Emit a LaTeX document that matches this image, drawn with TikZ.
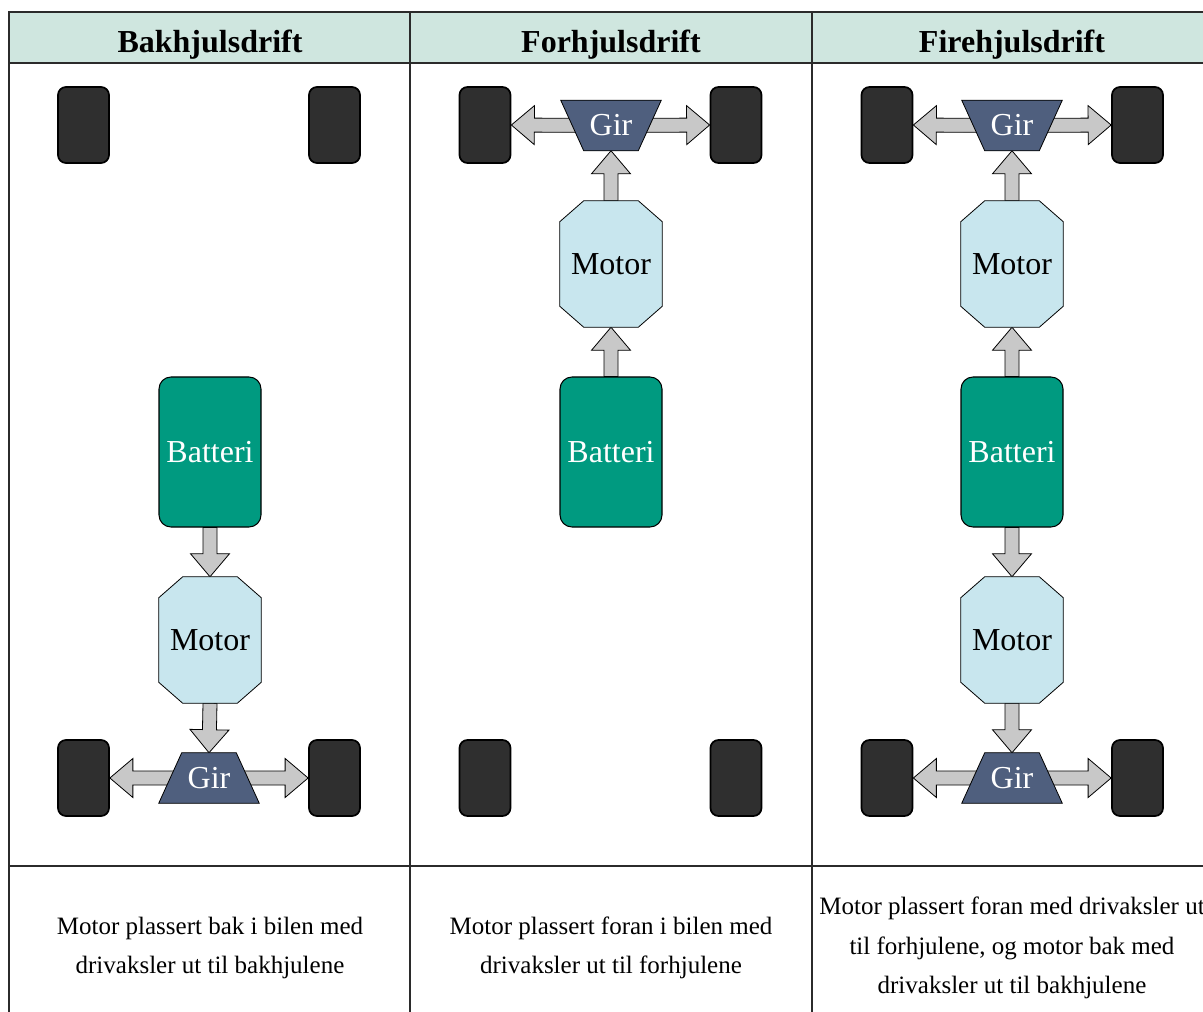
\documentclass[tikz,border=0pt]{standalone}
\usepackage{fontspec}
\setmainfont{Liberation Serif}
\usetikzlibrary{calc}
\pgfdeclarelayer{bg}\pgfdeclarelayer{arr}\pgfdeclarelayer{shp}
\pgfsetlayers{bg,arr,shp,main}
\definecolor{hdr}{HTML}{CFE6DF}
\definecolor{tblc}{HTML}{2B2B2B}
\definecolor{wheelc}{HTML}{2F2F2F}
\definecolor{battc}{HTML}{009A80}
\definecolor{motc}{HTML}{C8E6EE}
\definecolor{girc}{HTML}{4F5F7E}
\definecolor{arrc}{HTML}{C8C8C8}
\tikzset{
  tbl/.style={draw=tblc, line width=1.5pt},
  hdrtxt/.style={anchor=base, font=\bfseries\fontsize{24}{28}\selectfont},
  wheel/.style={draw=black, line width=1.3pt, fill=wheelc, rounded corners=6pt,
    minimum width=38.25pt, minimum height=57pt, inner sep=0pt},
  batt/.style={draw=black, line width=0.8pt, fill=battc, rounded corners=9pt,
    minimum width=76.5pt, minimum height=112.5pt, inner sep=0pt, text=white,
    font=\fontsize{24}{28}\selectfont},
  motbox/.style={minimum width=76.5pt, minimum height=94.5pt, inner sep=0pt,
    font=\fontsize{24}{28}\selectfont},
  girbox/.style={minimum width=75pt, minimum height=37.5pt, inner sep=0pt,
    text=white, font=\fontsize{24}{28}\selectfont},
  octstyle/.style={draw=black, line width=0.6pt, fill=motc},
  trapstyle/.style={draw=black, line width=0.6pt, fill=girc},
  barrowst/.style={draw=black, line width=0.6pt, fill=arrc, line join=miter},
  desc/.style={align=center, font=\fontsize{18.75}{29.6}\selectfont},
}
\newcommand\octa[1]{%
  \begin{pgfonlayer}{shp}
  \draw[octstyle] ($(#1.north west)+(24,0)$) -- ($(#1.north east)+(-24,0)$)
    -- ($(#1.north east)+(0,21)$) -- ($(#1.south east)+(0,-21)$)
    -- ($(#1.south east)+(-24,0)$) -- ($(#1.south west)+(24,0)$)
    -- ($(#1.south west)+(0,-21)$) -- ($(#1.north west)+(0,21)$) -- cycle;
  \end{pgfonlayer}}
\newcommand\trapnarrowtop[1]{%
  \begin{pgfonlayer}{shp}
  \draw[trapstyle] ($(#1.north west)+(23,0)$) -- ($(#1.north east)+(-23,0)$)
    -- (#1.south east) -- (#1.south west) -- cycle;
  \end{pgfonlayer}}
\newcommand\trapwidetop[1]{%
  \begin{pgfonlayer}{shp}
  \draw[trapstyle] (#1.north west) -- (#1.north east)
    -- ($(#1.south east)+(-23,0)$) -- ($(#1.south west)+(23,0)$) -- cycle;
  \end{pgfonlayer}}
\newcommand\barrow[2]{%
  \begin{pgfonlayer}{arr}
  \coordinate (ba-s) at (#1);
  \coordinate (ba-t) at (#2);
  \coordinate (ba-h) at ($(ba-t)!17.25pt!(ba-s)$);
  \draw[barrowst] ($(ba-s)!5.25pt!90:(ba-t)$) -- ($(ba-h)!5.25pt!90:(ba-t)$)
    -- ($(ba-h)!14.625pt!90:(ba-t)$) -- (ba-t)
    -- ($(ba-h)!14.625pt!-90:(ba-t)$) -- ($(ba-h)!5.25pt!-90:(ba-t)$)
    -- ($(ba-s)!5.25pt!-90:(ba-t)$) -- cycle;
  \end{pgfonlayer}}
\begin{document}
\begin{tikzpicture}[x=0.75pt,y=-0.75pt]
\useasboundingbox (0,0) rectangle (1203,1012);
\begin{pgfonlayer}{bg}
\fill[white] (0,0) rectangle (1203,1012);
\fill[hdr] (9,12) rectangle (1203,63);
\draw[tbl] (1203,12) -- (9,12) -- (9,1012);
\draw[tbl] (9,63) -- (1203,63);
\draw[tbl] (9,866) -- (1203,866);
\draw[tbl] (410,12) -- (410,1012);
\draw[tbl] (812,12) -- (812,1012);
\end{pgfonlayer}

% headers
\node[hdrtxt] (h1) at (210,53) {Bakhjulsdrift};
\node[hdrtxt] (h2) at (611,53) {Forhjulsdrift};
\node[hdrtxt] (h3) at (1012,53) {Firehjulsdrift};

% column 1
\node[wheel] (w1a) at (83.5,125) {};
\node[wheel] (w1b) at (334.5,125) {};
\node[wheel] (w1c) at (83.5,778) {};
\node[wheel] (w1d) at (334.5,778) {};
\node[batt] (b1) at (210,452) {Batteri};
\node[motbox] (m1) at (210,640) {Motor}; \octa{m1}
\node[girbox] (g1) at (209,778) {Gir}; \trapnarrowtop{g1}
\barrow{b1.south}{m1.north}
\barrow{m1.south}{g1.north}
\barrow{g1.center}{w1c.east}
\barrow{g1.center}{w1d.west}

% column 2
\node[wheel] (w2a) at (485,125) {};
\node[wheel] (w2b) at (736,125) {};
\node[wheel] (w2c) at (485,778) {};
\node[wheel] (w2d) at (736,778) {};
\node[girbox] (g2) at (611,125.5) {Gir}; \trapwidetop{g2}
\node[motbox] (m2) at (611,264) {Motor}; \octa{m2}
\node[batt] (b2) at (611,452) {Batteri};
\barrow{b2.north}{m2.south}
\barrow{m2.north}{g2.south}
\barrow{g2.center}{w2a.east}
\barrow{g2.center}{w2b.west}

% column 3
\node[wheel] (w3a) at (887,125) {};
\node[wheel] (w3b) at (1137.5,125) {};
\node[wheel] (w3c) at (887,778) {};
\node[wheel] (w3d) at (1137.5,778) {};
\node[girbox] (g3) at (1012,125.5) {Gir}; \trapwidetop{g3}
\node[motbox] (m3) at (1012,264) {Motor}; \octa{m3}
\node[batt] (b3) at (1012,452) {Batteri};
\node[motbox] (m4) at (1012,640) {Motor}; \octa{m4}
\node[girbox] (g4) at (1012,778) {Gir}; \trapnarrowtop{g4}
\barrow{m3.north}{g3.south}
\barrow{b3.north}{m3.south}
\barrow{b3.south}{m4.north}
\barrow{m4.south}{g4.north}
\barrow{g3.center}{w3a.east}
\barrow{g3.center}{w3b.west}
\barrow{g4.center}{w3c.east}
\barrow{g4.center}{w3d.west}

% descriptions
\node[desc] (d1) at (210,948) {Motor plassert bak i bilen med\\drivaksler ut til bakhjulene};
\node[desc] (d2) at (611,948) {Motor plassert foran i bilen med\\drivaksler ut til forhjulene};
\node[desc] (d3) at (1012,948) {Motor plassert foran med drivaksler ut\\til forhjulene, og motor bak med\\drivaksler ut til bakhjulene};
\end{tikzpicture}
\end{document}
